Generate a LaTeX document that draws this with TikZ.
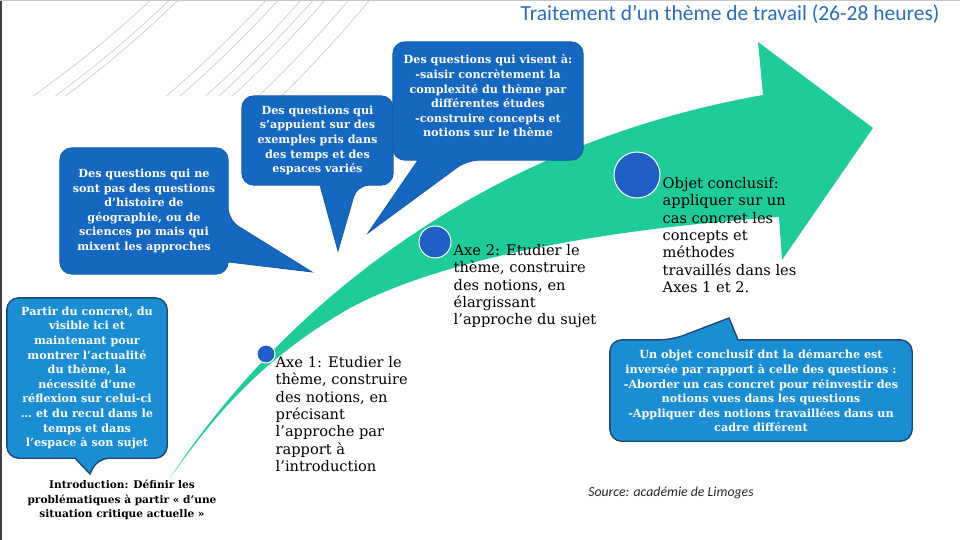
\documentclass[tikz,border=0pt]{standalone}
\usepackage{fontspec}
\setmainfont{DejaVu Serif}
\newfontfamily\slidefont{Carlito}
\usepackage{xcolor}
\usetikzlibrary{positioning, calc}
\definecolor{arrowgreen}{HTML}{1FCB98}
\definecolor{qblue}{HTML}{1667C0}
\definecolor{qedge}{HTML}{155AA8}
\definecolor{cblue}{HTML}{1B8DD2}
\definecolor{cedge}{HTML}{1D4A75}
\definecolor{dotblue}{HTML}{1F5FC6}
\definecolor{titleblue}{HTML}{2A6DB8}
\pgfdeclarelayer{back}
\pgfdeclarelayer{bubble}
\pgfsetlayers{back,bubble,main}
\tikzset{
  qtext/.style={
    rectangle, align=center, inner sep=0pt, text=white,
    font=\bfseries\fontsize{11.2}{14.6}\selectfont
  },
  qshape/.style={fill=qblue, draw=qedge, line width=0.8pt, rounded corners=12pt},
  cshape/.style={fill=cblue, draw=cedge, line width=1.4pt, rounded corners=12pt},
  axetext/.style={
    align=left, inner sep=0pt, anchor=north west,
    font=\fontsize{14.6}{17.4}\selectfont
  },
  introtext/.style={align=center, inner sep=0pt, font=\bfseries\fontsize{10.6}{14.5}\selectfont},
  dot/.style={circle, fill=dotblue, draw=white, line width=1pt, inner sep=0pt},
  bgarc/.style={draw=black!22, line width=0.6pt}
}

\begin{document}
\begin{tikzpicture}[x=1pt, y=-1pt]

\useasboundingbox (0,0) rectangle (960,540);

\begin{pgfonlayer}{back}
\begin{scope}
  \clip (25,0) rectangle (420,96);
  \foreach \r in {1097,1110,1116,1179,1188,1205,1214,1223,1241,1257}
    \draw[bgarc] (-600,-800) circle (\r);
\end{scope}
\coordinate (tail) at (170,478);
\coordinate (head) at (873,128);
\fill[arrowgreen] (tail) .. controls (215,415) and (260,360) .. (350,308)
  .. controls (450,255) and (620,228) .. (779,217) -- (782,260) -- (head)
  -- (758,42) -- (763,95) .. controls (450,150) and (260,340) .. (tail) -- cycle;
\end{pgfonlayer}
\draw[black!75, line width=2pt] (1,0) -- (1,540);
\draw[gray!45, line width=0.5pt] (0,0.3) -- (960,0.3);

\node[anchor=east, text=titleblue, font=\slidefont\fontsize{21.5}{24}\selectfont]
  (title) at (943,14) {Traitement d’un thème de travail (26-28 heures)};

% callouts
\node[qtext, minimum width=168, minimum height=126] (qa) at (144,211)
  {Des questions qui ne\\sont pas des questions\\d’histoire de\\géographie, ou de\\sciences po mais qui\\mixent les approches};
\node[qtext, minimum width=151, minimum height=89] (qb) at (317.5,140.5)
  {Des questions qui\\s’appuient sur des\\exemples pris dans\\des temps et des\\espaces variés};
\node[qtext, minimum width=190, minimum height=108] (qc) at (488,96)
  {Des questions qui visent à:\\-saisir concrètement la\\complexité du thème par\\différentes études\\-construire concepts et\\notions sur le thème};
\node[qtext, minimum width=160, minimum height=160] (qd) at (87,378)
  {Partir du concret, du\\visible ici et\\maintenant pour\\montrer l’actualité\\du thème, la\\nécessité d’une\\réflexion sur celui-ci\\… et du recul dans le\\temps et dans\\l’espace à son sujet};
\node[qtext, minimum width=302, minimum height=100] (qe) at (761,391)
  {Un objet conclusif dnt la démarche est\\inversée  par rapport à celle des questions :\\-Aborder un cas concret pour réinvestir des\\notions vues dans les questions\\-Appliquer des notions travaillées dans un\\cadre différent};

\coordinate (ta) at (312,272);
\coordinate (tb) at (338,251);
\coordinate (tc) at (368,233);
\coordinate (td) at (90,474);
\coordinate (te) at (729,318);

\begin{pgfonlayer}{bubble}
\draw[qshape] (qa.north) -- (qa.north east) -- ($(qa.east)+(0,9)$) [sharp corners] -- (ta)
  -- ($(qa.east)+(0,51)$) [rounded corners=12pt] -- (qa.south east) -- (qa.south west)
  -- (qa.north west) -- cycle;
\draw[qshape] (qb.north) -- (qb.north east) -- (qb.south east) -- ($(qb.south)+(39.5,0)$)
  [sharp corners] -- (tb) -- ($(qb.south)+(2.5,0)$) [rounded corners=12pt] -- (qb.south west)
  -- (qb.north west) -- cycle;
\draw[qshape] (qc.north) -- (qc.north east) -- ([yshift=-10pt]qc.south east)
  -- ($(qc.south)+(-21,10)$) [sharp corners] -- (tc) -- ($(qc.south)+(-70,10)$)
  [rounded corners=12pt] -- ([yshift=-10pt]qc.south west) -- (qc.north west) -- cycle;
\draw[cshape] (qd.north) -- (qd.north east) -- (qd.south east) -- ($(qd.south)+(10,0)$)
  [sharp corners] -- (td) -- ($(qd.south)+(-12,0)$) [rounded corners=12pt] -- (qd.south west)
  -- (qd.north west) -- cycle;
\draw[cshape] (qe.south) -- (qe.south west) -- ([yshift=1pt]qe.north west)
  -- ($(qe.north)+(-89,-1)$) [sharp corners] -- (te) -- ($(qe.north)+(-23,-1)$)
  [rounded corners=12pt] -- ([yshift=1pt]qe.north east) -- (qe.south east) -- cycle;
\end{pgfonlayer}

% stages along the arrow
\node[dot, minimum size=18] (d1) at (266,354) {};
\node[dot, minimum size=32] (d2) at (435,242) {};
\node[dot, minimum size=46] (d3) at (637,175) {};

\node[axetext] (axe1) at ([yshift=-2pt]d1.east)
  {Axe 1: Etudier le\\thème, construire\\des notions, en\\précisant\\l’approche par\\rapport à\\l’introduction};
\node[axetext] (axe2) at ([xshift=2pt,yshift=-2pt]d2.east)
  {Axe 2: Etudier le\\thème, construire\\des notions,  en\\élargissant\\l’approche du sujet};
\node[axetext] (objet) at ([xshift=2pt,yshift=-2pt]d3.east)
  {Objet conclusif:\\appliquer sur un\\cas concret les\\concepts et\\méthodes\\travaillés dans les\\Axes 1 et 2.};

\node[introtext] (intro) at (122,500)
  {Introduction: Définir les\\problématiques à partir « d’une\\situation critique actuelle »};

\node[font=\slidefont\itshape\fontsize{13.8}{16}\selectfont, text=black!85] (source) at (671,493)
  {Source: académie de Limoges};

\end{tikzpicture}
\end{document}
